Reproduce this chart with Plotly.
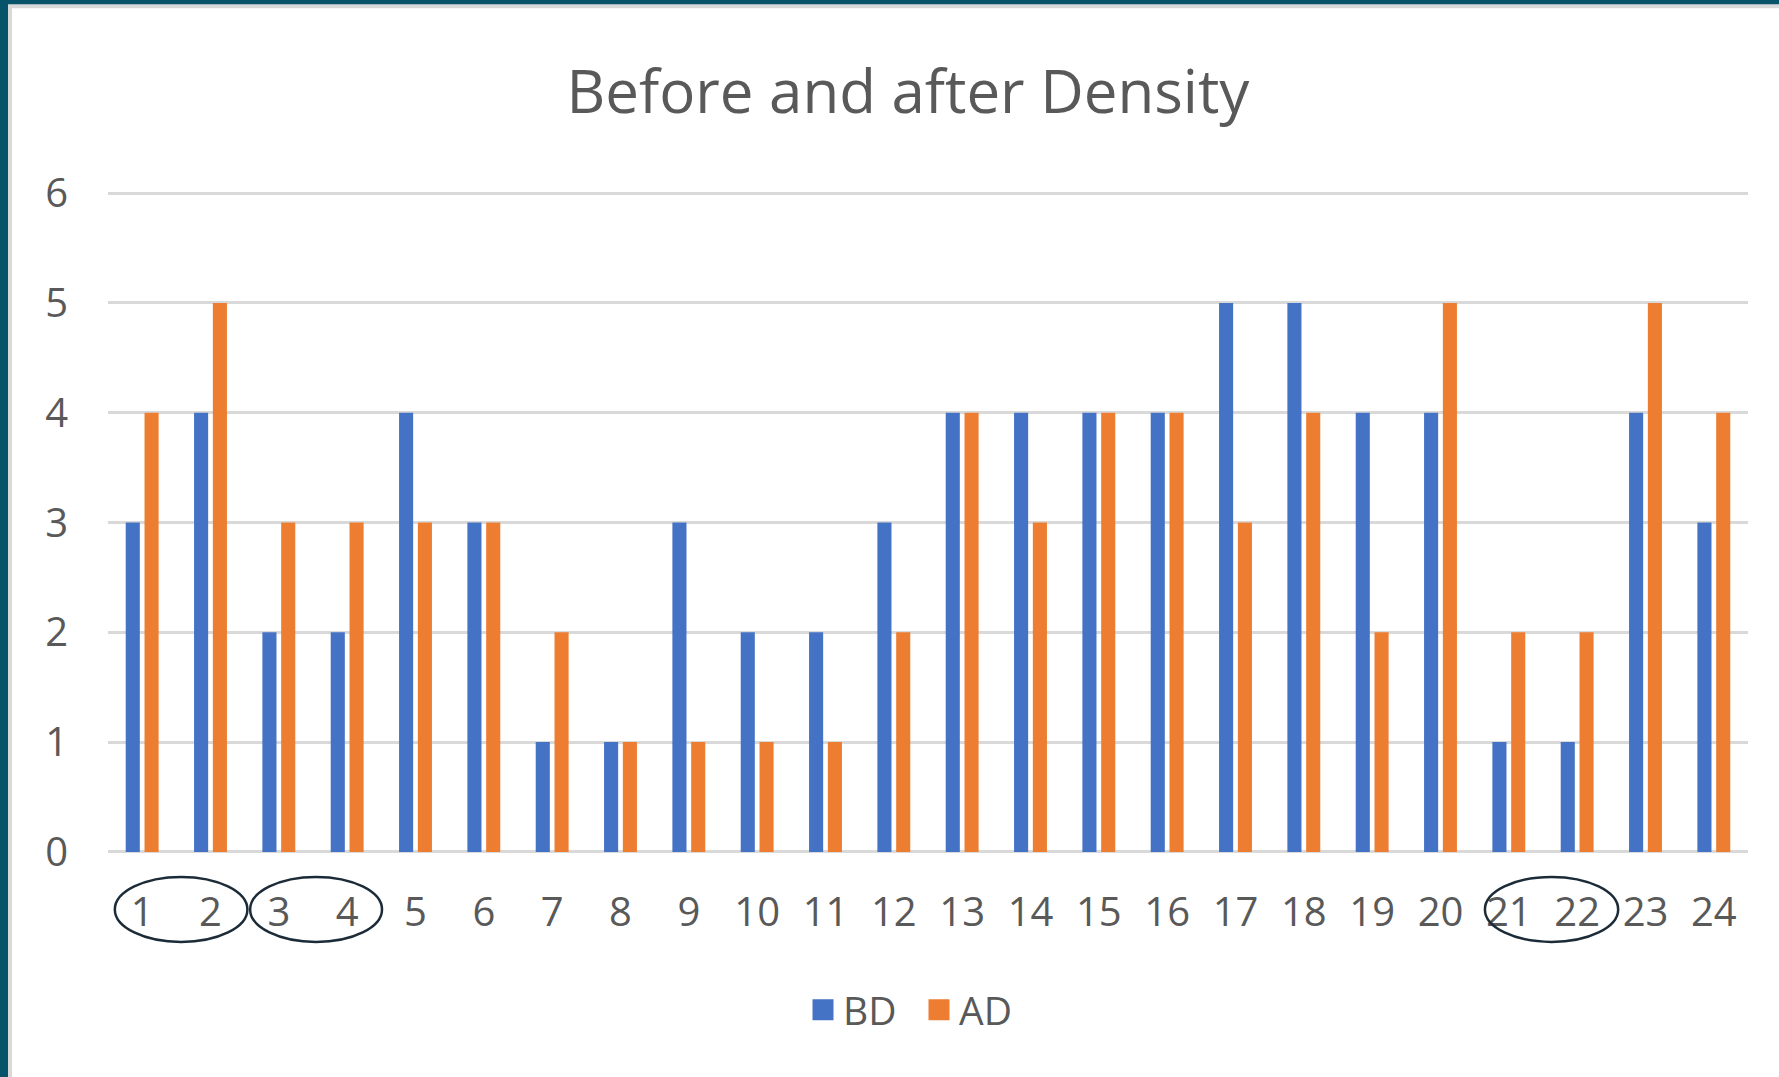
import plotly.graph_objects as go

categories = [str(i) for i in range(1, 25)]
x_pos = list(range(1, 25))
bd_values = [3, 4, 2, 2, 4, 3, 1, 1, 3, 2, 2, 3, 4, 4, 4, 4, 5, 5, 4, 4, 1, 1, 4, 3]
ad_values = [4, 5, 3, 3, 3, 3, 2, 1, 1, 1, 1, 2, 4, 3, 4, 4, 3, 4, 2, 5, 2, 2, 5, 4]
y_ticks = [0, 1, 2, 3, 4, 5, 6]

W, H = 1779, 1077
PAD = 0.01
unit = 659 / 6
L, R = 108, 31
T = 193 - PAD * unit
B = 225 - PAD * unit
PW, PH = W - L - R, H - T - B

def px_x(px):
    return (px - L) / PW

def px_y(py):
    return (H - B - py) / PH

FONT = "Open Sans"
GRAY = "#595959"
BLUE = "#4472C4"
ORANGE = "#ED7D31"

fig = go.Figure()
fig.add_trace(go.Bar(x=x_pos, y=bd_values, name="BD", showlegend=False,
                     marker=dict(color=BLUE, line=dict(width=0))))
fig.add_trace(go.Bar(x=x_pos, y=ad_values, name="AD", showlegend=False,
                     marker=dict(color=ORANGE, line=dict(width=0))))
# legend entries with larger square swatches
for name, col in [("BD", BLUE), ("AD", ORANGE)]:
    fig.add_trace(go.Scatter(x=[None], y=[None], mode="markers", name=name,
                             marker=dict(symbol="square", size=16, color=col,
                                         line=dict(width=5, color=col))))

shapes = [
    dict(type="rect", xref="paper", yref="paper", x0=px_x(8), x1=px_x(W + 20), y0=px_y(4), y1=px_y(H + 20),
         fillcolor="#D9D9D9", line=dict(width=0), layer="below"),
    dict(type="rect", xref="paper", yref="paper", x0=px_x(12), x1=px_x(W + 20), y0=px_y(8), y1=px_y(H + 20),
         fillcolor="white", line=dict(width=0), layer="below"),
]
ellipses = [(0.60, 2.54), (2.58, 4.51), (20.65, 22.60)]
for x0, x1 in ellipses:
    shapes.append(dict(type="circle", xref="x", yref="paper", x0=x0, x1=x1,
                       y0=px_y(942), y1=px_y(877), line=dict(color="#1C2B38", width=2.5),
                       layer="above"))

fig.update_layout(
    width=W, height=H,
    margin=dict(l=L, r=R, t=T, b=B, pad=0, autoexpand=False),
    paper_bgcolor="#07536A",
    plot_bgcolor="rgba(0,0,0,0)",
    barmode="group",
    bargap=0.45,
    bargroupgap=0.25,
    title=dict(text="Before and after Density", x=px_x(908), xref="paper", xanchor="center",
               y=1 - 92 / H, yanchor="middle",
               font=dict(family=FONT, size=60, color=GRAY)),
    font=dict(family=FONT, color=GRAY),
    legend=dict(orientation="h", x=px_x(919), xanchor="center", y=px_y(1010), yanchor="middle",
                font=dict(family=FONT, size=39, color=GRAY), itemsizing="trace", itemwidth=30,
                entrywidth=71, entrywidthmode="pixels",
                bgcolor="rgba(0,0,0,0)"),
    xaxis=dict(range=[0.5, 24.5], tickmode="array", tickvals=x_pos, ticktext=categories,
               showgrid=False, zeroline=False, showline=False,
               ticks="outside", ticklen=24, tickcolor="rgba(0,0,0,0)",
               tickfont=dict(family=FONT, size=40, color=GRAY)),
    yaxis=dict(range=[-PAD, 6 + PAD], tickmode="array", tickvals=y_ticks, ticktext=[str(v) for v in y_ticks],
               showgrid=True, gridcolor="#D9D9D9", gridwidth=3,
               zeroline=True, zerolinecolor="#D9D9D9", zerolinewidth=3, showline=False,
               ticks="outside", ticklen=31, tickcolor="rgba(0,0,0,0)",
               tickfont=dict(family=FONT, size=40, color=GRAY)),
    shapes=shapes,
)

fig.write_html("out.html", config={"displayModeBar": False},
               post_script="document.body.style.margin='0';document.body.style.overflow='hidden';")
